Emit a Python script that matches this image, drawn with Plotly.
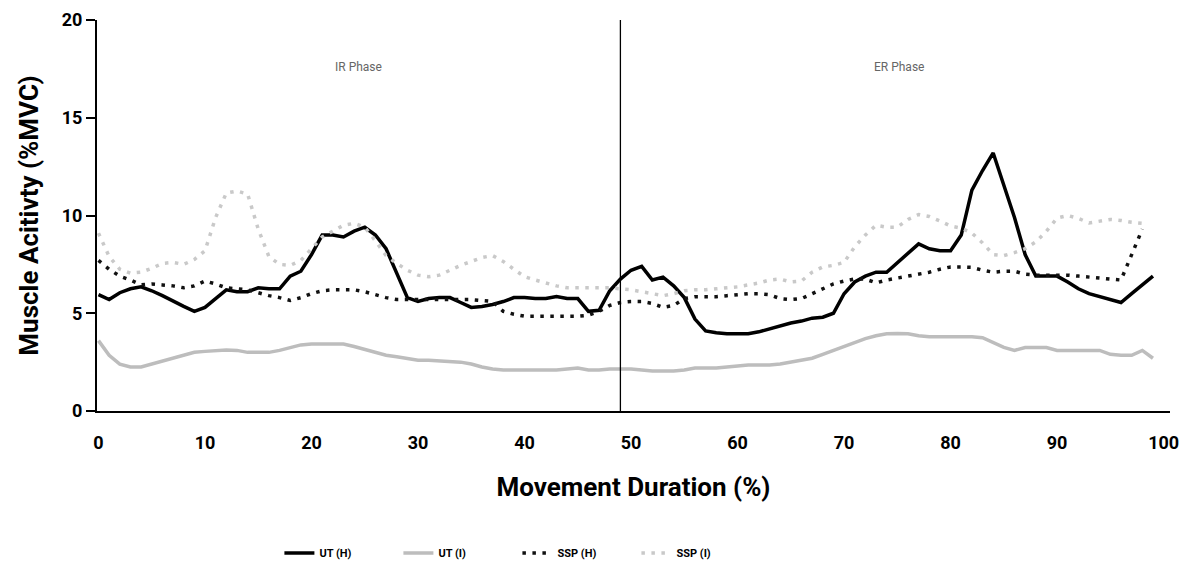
import plotly.graph_objects as go

x_pct = list(range(100))

ut_h = [5.95, 5.7, 6.05, 6.25, 6.35, 6.15, 5.9, 5.6, 5.35, 5.1,
        5.3, 5.75, 6.2, 6.1, 6.1, 6.3, 6.25, 6.25, 6.9, 7.15,
        8.0, 9.0, 9.0, 8.9, 9.2, 9.4, 9.0, 8.3, 7.0, 5.8,
        5.6, 5.75, 5.8, 5.8, 5.55, 5.3, 5.35, 5.45, 5.6, 5.8,
        5.8, 5.75, 5.75, 5.85, 5.75, 5.75, 5.1, 5.15, 6.15, 6.75,
        7.2, 7.4, 6.7, 6.85, 6.4, 5.8, 4.7, 4.1, 4.0, 3.95,
        3.95, 3.95, 4.05, 4.2, 4.35, 4.5, 4.6, 4.75, 4.8, 5.0,
        6.0, 6.6, 6.9, 7.1, 7.1, 7.6, 8.1, 8.55, 8.3, 8.2,
        8.2, 9.0, 11.3, 12.3, 13.2, 11.6, 9.9, 8.0, 6.9, 6.9,
        6.9, 6.6, 6.25, 6.0, 5.85, 5.7, 5.55, 6.0, 6.45, 6.9]

ut_i = [3.6, 2.85, 2.4, 2.25, 2.25, 2.4, 2.55, 2.7, 2.85, 3.0,
        3.05, 3.1, 3.12, 3.1, 3.0, 3.0, 3.0, 3.1, 3.25, 3.38,
        3.43, 3.43, 3.43, 3.43, 3.3, 3.15, 3.0, 2.85, 2.77, 2.7,
        2.6, 2.6, 2.58, 2.56, 2.5, 2.4, 2.25, 2.15, 2.1, 2.1,
        2.1, 2.1, 2.1, 2.1, 2.15, 2.2, 2.1, 2.1, 2.15, 2.15,
        2.15, 2.1, 2.05, 2.05, 2.05, 2.1, 2.2, 2.2, 2.2, 2.25,
        2.3, 2.35, 2.35, 2.35, 2.4, 2.5, 2.6, 2.7, 2.9, 3.1,
        3.3, 3.5, 3.7, 3.85, 3.95, 3.97, 3.95, 3.85, 3.8, 3.8,
        3.8, 3.8, 3.8, 3.75, 3.5, 3.25, 3.1, 3.25, 3.25, 3.25,
        3.1, 3.1, 3.1, 3.1, 3.1, 2.9, 2.85, 2.85, 3.1, 2.7]

ssp_h = [7.7, 7.25, 6.9, 6.7, 6.45, 6.5, 6.45, 6.4, 6.3, 6.4,
         6.65, 6.5, 6.3, 6.25, 6.2, 6.05, 5.9, 5.8, 5.65, 5.8,
         6.0, 6.15, 6.2, 6.2, 6.2, 6.1, 5.95, 5.8, 5.7, 5.7,
         5.7, 5.7, 5.7, 5.7, 5.7, 5.7, 5.65, 5.6, 5.1, 4.95,
         4.85, 4.85, 4.85, 4.85, 4.85, 4.85, 4.9, 5.1, 5.4, 5.55,
         5.6, 5.6, 5.5, 5.3, 5.4, 5.75, 5.85, 5.85, 5.85, 5.9,
         5.95, 6.0, 6.0, 5.95, 5.75, 5.7, 5.75, 6.0, 6.25, 6.5,
         6.65, 6.75, 6.75, 6.55, 6.7, 6.8, 6.9, 7.0, 7.1, 7.25,
         7.37, 7.37, 7.35, 7.2, 7.1, 7.15, 7.15, 7.0, 6.95, 6.95,
         6.95, 6.95, 6.9, 6.85, 6.8, 6.75, 6.7, 8.0, 9.3, None]

ssp_i = [9.1, 7.9, 7.25, 7.05, 7.1, 7.3, 7.55, 7.6, 7.5, 7.75,
         8.2, 9.9, 11.15, 11.25, 11.1, 9.3, 7.9, 7.5, 7.45, 7.7,
         8.3, 8.9, 9.2, 9.5, 9.6, 9.4, 8.7, 7.95, 7.55, 7.2,
         6.95, 6.87, 6.95, 7.2, 7.45, 7.65, 7.85, 7.95, 7.65, 7.25,
         6.87, 6.7, 6.55, 6.4, 6.3, 6.3, 6.3, 6.3, 6.3, 6.25,
         6.2, 6.1, 6.0, 5.9, 6.0, 6.15, 6.2, 6.2, 6.25, 6.3,
         6.35, 6.45, 6.55, 6.7, 6.75, 6.6, 6.65, 7.1, 7.37, 7.45,
         7.6, 8.4, 9.0, 9.5, 9.4, 9.4, 9.8, 10.05, 9.95, 9.72,
         9.46, 9.35, 9.1, 8.6, 8.0, 7.95, 8.1, 8.3, 8.65, 9.2,
         9.87, 10.0, 9.85, 9.62, 9.7, 9.8, 9.75, 9.65, 9.6, None]

series_names = ["UT (H)", "UT (I)", "SSP (H)", "SSP (I)"]
x_ticks = [0, 10, 20, 30, 40, 50, 60, 70, 80, 90, 100]
y_ticks = [0, 5, 10, 15, 20]
phase_split = 49
phase_labels = ["IR Phase", "ER Phase"]
phase_label_x = [24.4, 75.2]
phase_label_y = 17.6

FONT = "Roboto, Arial"

fig = go.Figure()
fig.add_trace(go.Scatter(x=x_pct, y=ut_h, mode="lines", name=series_names[0],
                         line=dict(color="#000000", width=3.5)))
fig.add_trace(go.Scatter(x=x_pct, y=ut_i, mode="lines", name=series_names[1],
                         line=dict(color="#bdbdbd", width=3.5)))
fig.add_trace(go.Scatter(x=x_pct, y=ssp_h, mode="lines", name=series_names[2],
                         line=dict(color="#111111", width=3.5, dash="3.5px,6.5px")))
fig.add_trace(go.Scatter(x=x_pct, y=ssp_i, mode="lines", name=series_names[3],
                         line=dict(color="#c9c9c9", width=3.5, dash="3.5px,6.5px")))

fig.add_shape(type="line", xref="x", yref="y", x0=phase_split, x1=phase_split,
              y0=0, y1=20, line=dict(color="#000000", width=1.3), layer="above")

for lbl, lx in zip(phase_labels, phase_label_x):
    fig.add_annotation(x=lx, y=phase_label_y, xref="x", yref="y", text=lbl,
                       showarrow=False, font=dict(family=FONT, size=12, color="#666666"))

fig.update_layout(
    width=1193, height=569,
    margin=dict(l=97, r=23, t=20, b=158, autoexpand=False),
    paper_bgcolor="white", plot_bgcolor="white",
    font=dict(family=FONT, color="#000000"),
    showlegend=True,
    legend=dict(orientation="h", x=0.17, xanchor="left", y=-0.363, yanchor="middle",
                font=dict(family=FONT, size=11, color="#000000", weight="bold"),
                traceorder="normal", entrywidth=74, entrywidthmode="pixels"),
    xaxis=dict(range=[-0.14, 100.6], tickvals=x_ticks, ticktext=[str(v) for v in x_ticks],
               automargin=False,
               showgrid=False, zeroline=False, showline=True, linecolor="#000000", linewidth=2,
               ticks="", ticklabelstandoff=14,
               tickfont=dict(family=FONT, size=18, color="#000000", weight="bold"),
               title=dict(text="<b>Movement Duration (%)</b>", standoff=26,
                          font=dict(family=FONT, size=26, color="#000000"))),
    yaxis=dict(range=[0, 20], tickvals=y_ticks, showgrid=False, zeroline=False,
               automargin=False,
               showline=True, linecolor="#000000", linewidth=2,
               ticks="outside", ticklen=9, tickwidth=2, tickcolor="#000000",
               tickfont=dict(family=FONT, size=18, color="#000000", weight="bold"),
               title=dict(text="<b>Muscle Acitivty (%MVC)</b>", standoff=16,
                          font=dict(family=FONT, size=26, color="#000000"))),
)

fig.write_html("out.html")
